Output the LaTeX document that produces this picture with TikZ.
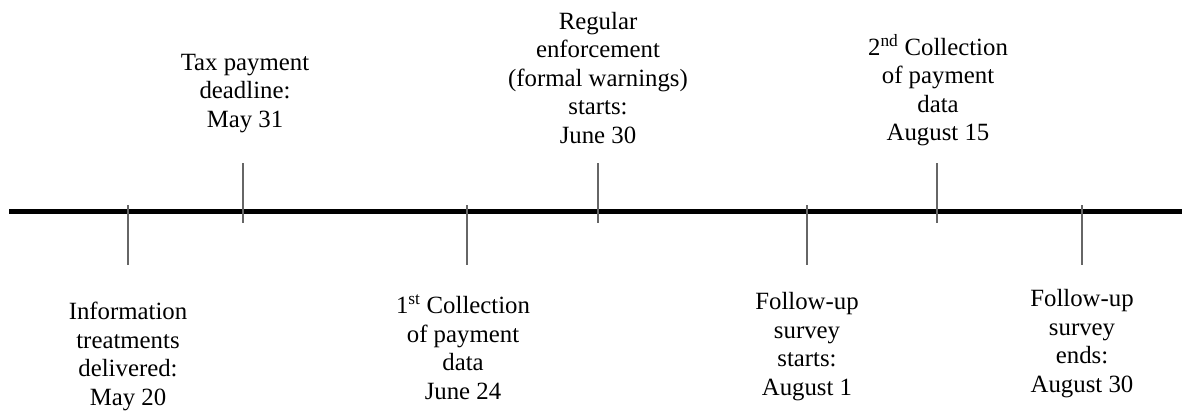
\documentclass[tikz,border=0pt]{standalone}
\usepackage{fontspec}
\setmainfont{Liberation Serif}
\begin{document}
\begin{tikzpicture}[x=1pt,y=-1pt,
  axisline/.style={line width=5pt,black},
  tick/.style={line width=1.3pt,black!60},
  lbl/.style={align=center,inner sep=0pt,font=\fontsize{24.8}{28.5}\selectfont}]
\useasboundingbox (0,0) rectangle (1182,416);
% axis
\coordinate (L) at (9,211);
\coordinate (R) at (1182,211);
\draw[axisline] (L) -- (R);
% ticks below
\coordinate (a1) at (128,205); \coordinate (a2) at (128,265);
\coordinate (c1) at (467,205); \coordinate (c2) at (467,265);
\coordinate (e1) at (807,205); \coordinate (e2) at (807,265);
\coordinate (g1) at (1082,205); \coordinate (g2) at (1082,265);
% ticks above
\coordinate (b1) at (243,163); \coordinate (b2) at (243,223);
\coordinate (d1) at (598,163); \coordinate (d2) at (598,223);
\coordinate (f1) at (937,163); \coordinate (f2) at (937,223);
\foreach \t in {a,b,c,d,e,f,g}{\draw[tick] (\t1) -- (\t2);}
% labels
\node[lbl] (A) at (128,356.5) {Information\\treatments\\delivered:\\May 20};
\node[lbl] (B) at (245,93.5) {Tax payment\\deadline:\\May 31};
\node[lbl] (C) at (463,347) {1\textsuperscript{st} Collection\\of payment\\data\\June 24};
\node[lbl] (D) at (598,78) {Regular\\enforcement\\(formal warnings)\\starts:\\June 30};
\node[lbl] (E) at (807,346.5) {Follow-up\\survey\\starts:\\August 1};
\node[lbl] (F) at (938,90) {2\textsuperscript{nd} Collection\\of payment\\data\\August 15};
\node[lbl] (G) at (1082,343.5) {Follow-up\\survey\\ends:\\August 30};
\end{tikzpicture}
\end{document}
